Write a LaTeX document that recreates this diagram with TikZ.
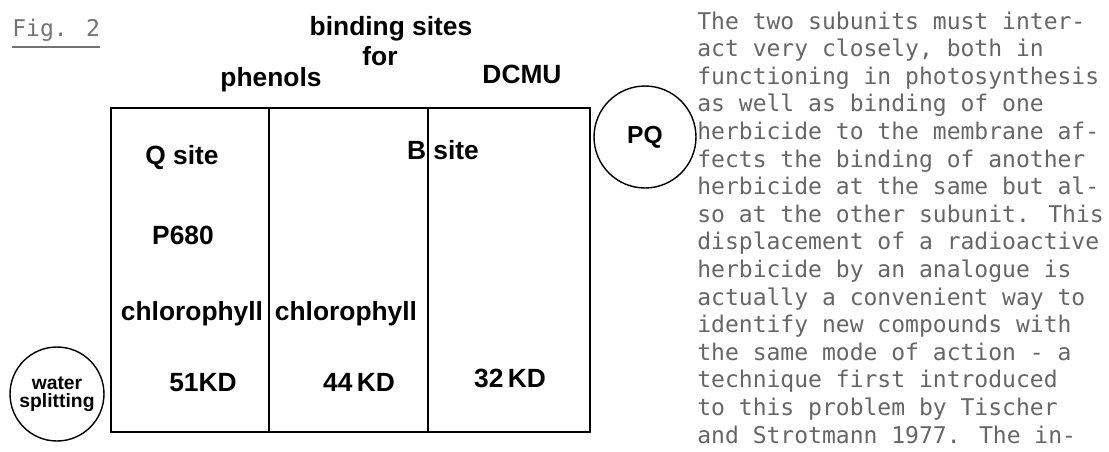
\documentclass[tikz,border=0pt]{standalone}
\usepackage{fontspec}
\setsansfont{Liberation Sans}
\newfontfamily\typewriter{DejaVu Sans Mono}
\usepackage{xcolor}
\tikzstyle{column}    = [draw, line width=1.1pt, rectangle, anchor=north west, minimum height=6.48cm, inner sep=0pt]
\tikzstyle{cofactor}  = [draw, thick, circle, inner sep=0pt, align=center]
\tikzstyle{site}      = [font=\sffamily\bfseries\fontsize{15}{18}\selectfont, inner sep=0pt, anchor=base]
\tikzstyle{small}     = [font=\sffamily\bfseries\fontsize{11}{10.5}\selectfont]
\tikzstyle{body}      = [font=\typewriter\fontsize{13.1}{15.7}\selectfont, text=black!60, inner sep=0pt, anchor=base west]

\begin{document}
\begin{tikzpicture}[x=0.02cm, y=-0.02cm]
\useasboundingbox (0,0) rectangle (1109,451);

% the three subunits
\node[column, minimum width=3.16cm] (C1) at (110,107) {};
\node[column, minimum width=3.18cm] (C2) at (268,107) {};
\node[column, minimum width=3.24cm] (C3) at (427,107) {};

% heading
\node[body, text=black!55] (fig) at (12,36) {Fig. 2};
\draw[black!55, thick] ([yshift=-0.11cm]fig.south west) -- ([yshift=-0.11cm]fig.south east);
\node[site] (bind)   at (391,35) {binding sites};
\node[site] (for)    at (380,65) {for};
\node[site] (phen)   at (271,86) {phenols};
\node[site] (dcmu)   at (522,83) {DCMU};

% inside the membrane
\node[site] (Q)      at (182,164) {Q site};
\node[site] (B)      at (443,159) {B site};
\node[site] (P680)   at (183,244) {P680};
\node[site] (chl1)   at (192,320) {chlorophyll};
\node[site] (chl2)   at (346,320) {chlorophyll};
\node[site] (KD51)   at (203,391) {51KD};
\node[site] (KD44)   at (359,391) {44\,KD};
\node[site] (KD32)   at (510,387) {32\,KD};

% outside
\node[cofactor, small, minimum size=1.88cm] (water) at (57,394) {water\\splitting};
\node[cofactor, font=\sffamily\bfseries\fontsize{14}{16}\selectfont, minimum size=2.04cm] (PQ) at (645,137) {PQ};

% running text
\foreach \ln [count=\i] in {The two subunits must inter-,
  {act very closely, both in},
  functioning in photosynthesis,
  as well as binding of one,
  herbicide to the membrane af-,
  fects the binding of another,
  herbicide at the same but al-,
  so at the other subunit. This,
  displacement of a radioactive,
  herbicide by an analogue is,
  actually a convenient way to,
  identify new compounds with,
  the same mode of action - a,
  technique first introduced,
  to this problem by Tischer,
  and Strotmann 1977. The in-}
  \node[body] (line\i) at (697,{29+27.6*(\i-1)}) {\ln};

\end{tikzpicture}
\end{document}
